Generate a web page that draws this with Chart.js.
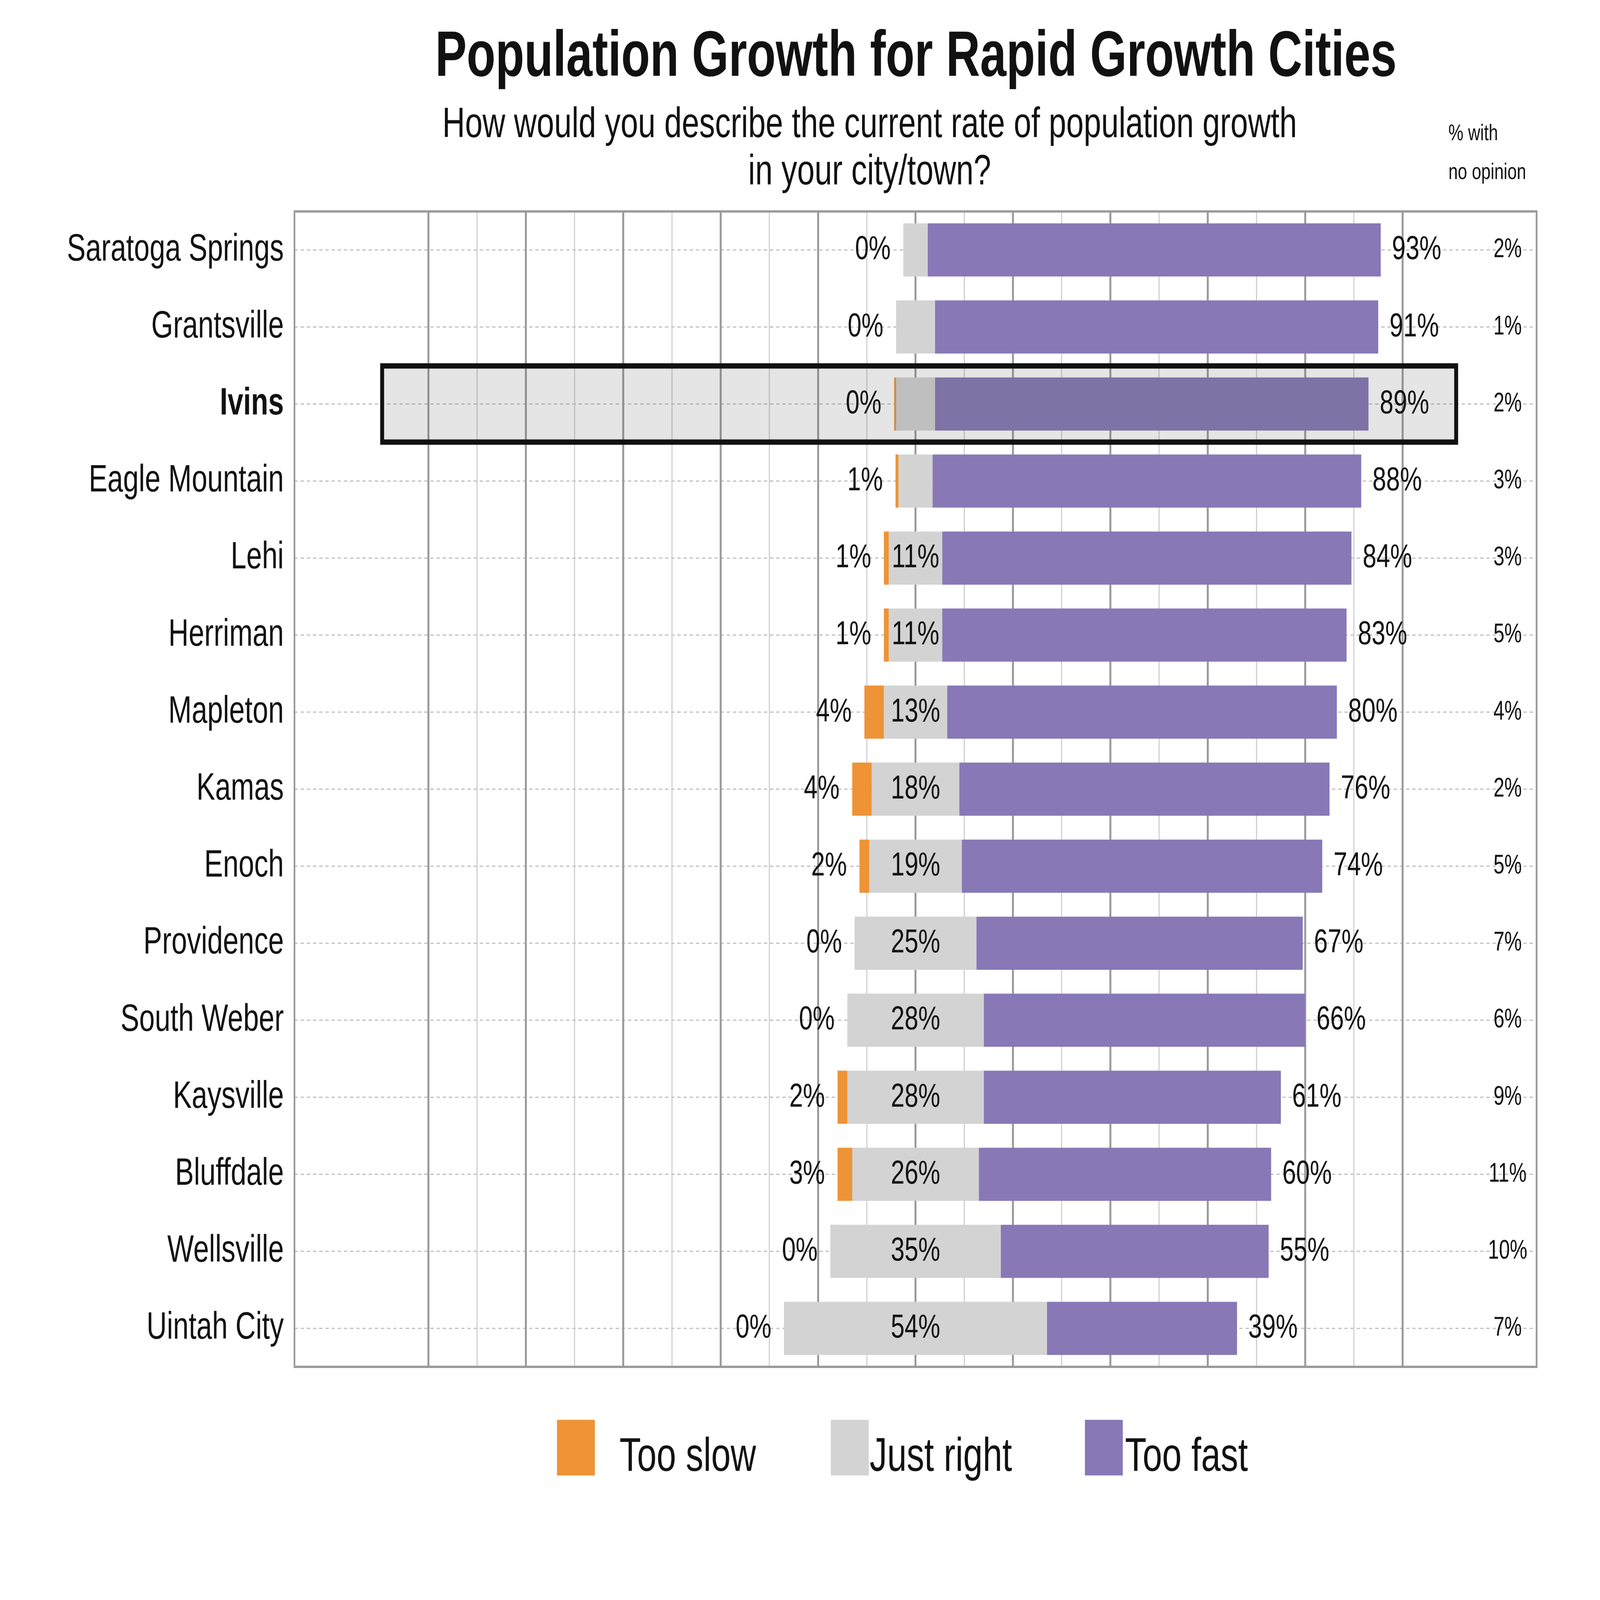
<!DOCTYPE html>
<html><head><meta charset="utf-8">
<script src="https://cdn.jsdelivr.net/npm/chart.js@4/dist/chart.umd.min.js"></script>
<style>html,body{margin:0;padding:0;background:#fff;overflow:hidden}#c{display:block;width:100vw !important;height:100vh !important}</style>
</head><body>
<canvas id="c" width="5700" height="4200" style="width:100vw;height:100vh"></canvas>
<script>
const cities = ["Saratoga Springs","Grantsville","Ivins","Eagle Mountain","Lehi","Herriman","Mapleton","Kamas","Enoch","Providence","South Weber","Kaysville","Bluffdale","Wellsville","Uintah City"];
const tooSlow = [0,0,0.4,0.6,1,1,4,4,2,0,0,2,3,0,0];
const justRight = [5,8,8,7,11,11,13,18,19,25,28,28,26,35,54];
const tooFast = [93,91,89,88,84,83,80,76,74,67,66,61,60,55,39];
const noOpinion = [2,1,2,3,3,5,4,2,5,7,6,9,11,10,7];
const highlight = "Ivins";
const FONT = "'Liberation Sans', Arial, sans-serif";
const colors = {slow:"#EE9336", right:"#D3D3D3", fast:"#8878B6"};

const slowData = cities.map((c,i)=>[-justRight[i]/2-tooSlow[i], -justRight[i]/2]);
const rightData = cities.map((c,i)=>[-justRight[i]/2, justRight[i]/2]);
const fastData = cities.map((c,i)=>[justRight[i]/2, justRight[i]/2+tooFast[i]]);

const custom = {
  id:"custom",
  beforeDatasetsDraw(chart){
    const {ctx, chartArea:a, scales:{x,y}} = chart;
    ctx.save();
    ctx.strokeStyle = "#bdbdbd"; ctx.lineWidth = 3; ctx.setLineDash([12,10]);
    cities.forEach((c,i)=>{
      const yy = y.getPixelForValue(i);
      ctx.beginPath(); ctx.moveTo(a.left,yy); ctx.lineTo(a.right,yy); ctx.stroke();
    });
    ctx.setLineDash([]);
    for(let v=-100; v<=100; v+=10){
      const px = x.getPixelForValue(v);
      const major = v%20===0;
      ctx.strokeStyle = major ? "#9a9a9a" : "#cfcfcf";
      ctx.lineWidth = major ? 7 : 4;
      ctx.beginPath(); ctx.moveTo(px,a.top); ctx.lineTo(px,a.bottom); ctx.stroke();
    }
    ctx.restore();
  },
  afterDatasetsDraw(chart){
    const {ctx, chartArea:a, scales:{x,y}} = chart;
    ctx.save();
    const hi = cities.indexOf(highlight);
    const yc = y.getPixelForValue(hi);
    const bh = 200;
    const x0 = x.getPixelForValue(-109.5), x1 = x.getPixelForValue(111);
    ctx.fillStyle = "rgba(80,80,80,0.15)";
    ctx.fillRect(x0, yc-bh/2, x1-x0, bh);
    ctx.strokeStyle = "#111"; ctx.lineWidth = 14;
    ctx.strokeRect(x0, yc-bh/2, x1-x0, bh);
    ctx.strokeStyle = "#999"; ctx.lineWidth = 6;
    ctx.strokeRect(a.left, a.top, a.right-a.left, a.bottom-a.top);
    ctx.fillStyle = "#111"; ctx.textBaseline = "middle";
    cities.forEach((c,i)=>{
      const yy = y.getPixelForValue(i);
      ctx.font = "88px " + FONT;
      ctx.textAlign = "right";
      ctx.fillText(Math.round(tooSlow[i])+"%", x.getPixelForValue(slowData[i][0]) - 45, yy);
      if(justRight[i] >= 10){
        ctx.textAlign = "center";
        ctx.fillText(justRight[i]+"%", x.getPixelForValue(0), yy);
      }
      ctx.textAlign = "left";
      ctx.fillText(tooFast[i]+"%", x.getPixelForValue(fastData[i][1]) + 40, yy);
      ctx.font = "70px " + FONT;
      ctx.textAlign = "center";
      ctx.fillText(noOpinion[i]+"%", 5371, yy);
    });
    ctx.textAlign = "center";
    ctx.font = "bold 168px " + FONT;
    ctx.fillText("Population Growth for Rapid Growth Cities", 3263, 153);
    ctx.font = "112px " + FONT;
    ctx.fillText("How would you describe the current rate of population growth", 3098, 329);
    ctx.fillText("in your city/town?", 3098, 453);
    ctx.textAlign = "left";
    ctx.font = "60px " + FONT;
    ctx.fillText("% with", 5160, 351);
    ctx.fillText("no opinion", 5160, 453);
    const leg = [["Too slow",colors.slow,1984,2207],["Just right",colors.right,2960,3098],["Too fast",colors.fast,3865,4008]];
    ctx.font = "125px " + FONT;
    leg.forEach(([t,col,bx,tx])=>{
      ctx.fillStyle = col; ctx.fillRect(bx, 3727, 135, 146);
      ctx.fillStyle = "#111"; ctx.fillText(t, tx, 3827);
    });
    ctx.restore();
  }
};

new Chart(document.getElementById("c"), {
  type:"bar",
  data:{labels:cities, datasets:[
    {label:"Too slow", data:slowData, backgroundColor:colors.slow},
    {label:"Just right", data:rightData, backgroundColor:colors.right},
    {label:"Too fast", data:fastData, backgroundColor:colors.fast}
  ]},
  options:{
    indexAxis:"y", responsive:false, animation:false,
    devicePixelRatio:1,
    layout:{padding:{left:0, right:226, top:555, bottom:612}},
    datasets:{bar:{grouped:false, categoryPercentage:1, barPercentage:0.69, borderWidth:0}},
    plugins:{legend:{display:false}, title:{display:false}, tooltip:{enabled:false}},
    scales:{
      x:{display:false, min:-127.5, max:127.5},
      y:{
        afterFit(s){ s.width = 1049; },
        border:{display:false},
        grid:{display:false},
        ticks:{color:"#111", padding:30,
          font:(c)=>({family:FONT, size:100, weight: c.index===2 ? "bold":"normal"})}
      }
    }
  },
  plugins:[custom]
});
</script>
</body></html>
